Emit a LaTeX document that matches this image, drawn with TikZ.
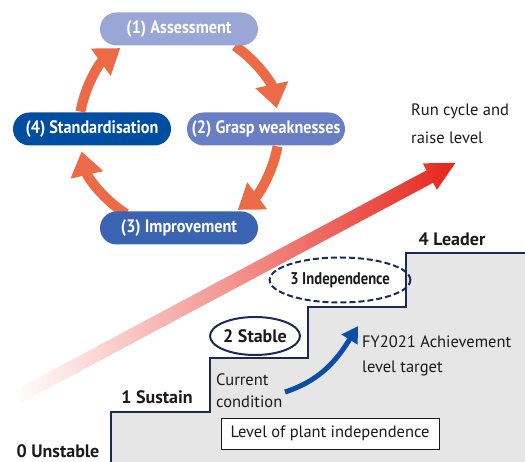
\documentclass[tikz,border=0pt]{standalone}
\usepackage{fontspec}
\setmainfont{PT Sans}
\newfontfamily\condfont[FakeStretch=0.9]{PT Sans}
\newfontfamily\indfont[FakeStretch=0.86]{PT Sans}
\usetikzlibrary{arrows.meta,shapes.misc,shapes.geometric}
\definecolor{cA}{HTML}{9AA6D6}
\definecolor{cB}{HTML}{6A7EC5}
\definecolor{cC}{HTML}{3A64B2}
\definecolor{cD}{HTML}{004EA2}
\definecolor{cyco}{HTML}{EC6A45}
\definecolor{navy}{HTML}{1A2B58}
\definecolor{stairgray}{HTML}{E6E6E6}
\definecolor{barrow}{HTML}{0A4EA8}
\definecolor{gmid}{HTML}{F08C64}
\definecolor{gend}{HTML}{E6261C}
\definecolor{txt}{HTML}{1A1A1A}
\tikzset{
  pill/.style={rounded rectangle, minimum width=158pt, minimum height=33pt, inner sep=0pt,
    text=white, font=\condfont\bfseries\fontsize{18}{20}\selectfont},
  cyc/.style={draw=cyco, line width=10pt, -{Triangle[width=32pt,length=24pt]}},
  lvl/.style={text=txt, font=\bfseries\fontsize{18}{20}\selectfont, inner sep=0pt},
  plain/.style={text=txt, font=\fontsize{16.5}{22}\selectfont, inner sep=0pt, align=left},
  ring/.style={ellipse, draw=navy, line width=2pt, inner sep=0pt},
  blu/.style={draw=barrow, line width=5pt, -{Triangle[width=18pt,length=16pt]}}
}
\begin{document}
\begin{tikzpicture}[x=1pt,y=1pt]
\path[use as bounding box] (0,0) rectangle (525,462);

% big gradient arrow
\begin{scope}[shift={(17,65)}, rotate=28.1]
\shade[left color=white, middle color=gmid, right color=gend]
  (0,-7) -- (468,-7) -- (468,-15) -- (497,0) -- (468,15) -- (468,7) -- (0,7) -- cycle;
\end{scope}

% staircase
\fill[stairgray] (111,0) -- (111,50) -- (210,50) -- (210,104) -- (308,104) -- (308,155)
  -- (406,155) -- (406,209) -- (525,209) -- (525,0) -- cycle;
\draw[navy, line width=2pt] (111,0) -- (111,50) -- (210,50) -- (210,104) -- (308,104) -- (308,155)
  -- (406,155) -- (406,209) -- (525,209);

% cycle
\coordinate (cc) at (179,333);
\draw[cyc] ([shift={(56:100)}]cc) arc[start angle=56, end angle=12, radius=100];
\draw[cyc] ([shift={(-10:100)}]cc) arc[start angle=-10, end angle=-54, radius=100];
\draw[cyc] ([shift={(-122:100)}]cc) arc[start angle=-122, end angle=-167, radius=100];
\draw[cyc] ([shift={(170:100)}]cc) arc[start angle=170, end angle=126, radius=100];

\node[pill, fill=cA] (n1) at (179,433) {(1) Assessment};
\node[pill, fill=cB] (n2) at (266,333) {(2) Grasp weaknesses};
\node[pill, fill=cC] (n3) at (179,234) {(3) Improvement};
\node[pill, fill=cD] (n4) at (92,333) {(4) Standardisation};

% labels
\node[plain, anchor=west, font=\fontsize{16.5}{28}\selectfont] (run) at (411,338) {Run cycle and\\raise level};
\node[lvl] (l0) at (58,11) {0 Unstable};
\node[lvl] (l1) at (157,65) {1 Sustain};
\node[ring, minimum width=84pt, minimum height=38pt, font=\bfseries\fontsize{18}{20}\selectfont, text=txt] (l2) at (255,126) {2 Stable};
\node[ring, dash pattern=on 6pt off 3pt, minimum width=114pt, minimum height=45pt, text=txt,
  font=\indfont\bfseries\fontsize{17}{19}\selectfont] (l3) at (340,182) {3 Independence};
\node[lvl] (l4) at (452,223) {4 Leader};

\node[plain, anchor=west] (cur) at (216,71) {Current\\condition};
\node[plain, anchor=west, font=\fontsize{16.5}{25}\selectfont] (fy) at (362,106) {FY2021 Achievement\\level target};
\coordinate (bs) at (285,70);
\coordinate (bt) at (358,136);
\draw[blu] (bs) to[out=18,in=238] (bt);

\node[draw=txt, line width=0.8pt, fill=white, minimum width=218pt, minimum height=31pt, inner sep=0pt,
  text=txt, font=\fontsize{16.5}{18}\selectfont] (lev) at (330,28.5) {Level of plant independence};
\end{tikzpicture}
\end{document}
